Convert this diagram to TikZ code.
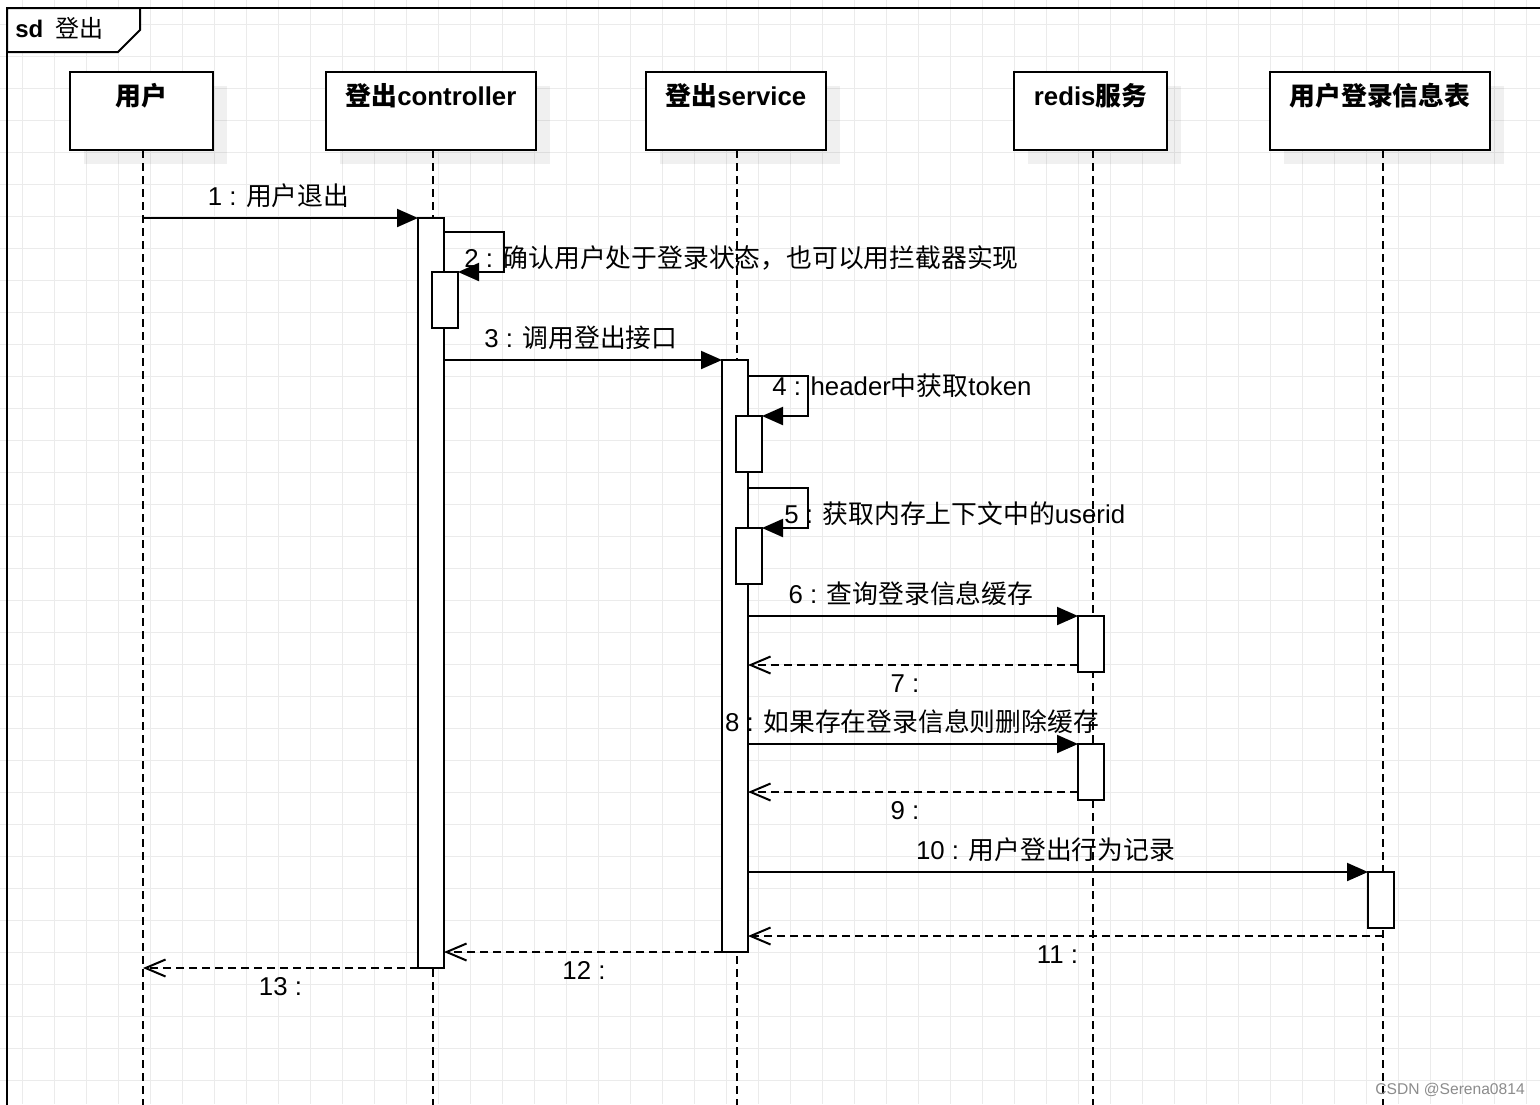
\documentclass[tikz,border=0pt]{standalone}
\usepackage{fontspec}
\setmainfont{Liberation Sans}
\newfontfamily\cjk{Noto Sans CJK SC}
\newcommand\C[1]{{\cjk #1}}
\usetikzlibrary{arrows.meta,shadows}
\begin{document}
\begin{tikzpicture}[x=0.5pt,y=-0.5pt,
  gridline/.style={line width=0.5pt, draw=black!8},
  ln/.style={line width=1pt},
  head/.style={draw, line width=1pt, fill=white, inner xsep=0pt, inner ysep=0pt, outer sep=0pt,
    text height=16.5pt, text depth=22.5pt, anchor=north,
    font=\bfseries\fontsize{12.9pt}{15pt}\selectfont,
    drop shadow={shadow xshift=7pt, shadow yshift=-7pt, fill=black, opacity=0.06}},
  act/.style={draw, line width=1pt, fill=white, inner sep=0pt, outer sep=0pt, minimum width=13pt},
  lifeline/.style={line width=1pt, dash pattern=on 4pt off 2.5pt},
  msg/.style={line width=1pt, -{Triangle[length=10.5pt,width=9pt]}},
  ret/.style={line width=1pt, dash pattern=on 4pt off 2.5pt, -{Straight Barb[length=10pt,width=8.5pt]}},
  lbl/.style={font=\fontsize{12.9pt}{15pt}\selectfont, inner sep=0pt, anchor=base}
]
\useasboundingbox (0,0) rectangle (1540,1104);
\fill[white] (0,0) rectangle (1540,1104);
% grid
\foreach \i in {0,...,47} \draw[gridline] (22.7+32*\i,0) -- (22.7+32*\i,1104);
\foreach \j in {0,...,34} \draw[gridline] (0,24+32*\j) -- (1540,24+32*\j);
% frame
\draw[ln] (7,1106) -- (7,8) -- (1542,8);
\draw[ln, fill=white] (7,8) -- (140,8) -- (140,30) -- (118,52) -- (7,52) -- cycle;
\node[inner sep=0pt, anchor=base west, font=\fontsize{12pt}{14pt}\selectfont] (title) at (15,37) {\textbf{sd}\hspace{6pt}\C{登出}};
% heads
\node[head, minimum width=71.5pt, minimum height=39pt] (h1) at (141.5,72) {\C{用户}};
\node[head, minimum width=105pt, minimum height=39pt] (h2) at (431,72) {\C{登出}controller};
\node[head, minimum width=90pt, minimum height=39pt] (h3) at (736,72) {\C{登出}service};
\node[head, minimum width=76.5pt, minimum height=39pt] (h4) at (1090.5,72) {redis\C{服务}};
\node[head, minimum width=110pt, minimum height=39pt] (h5) at (1380,72) {\C{用户登录信息表}};
% lifelines
\coordinate (l1) at (143,150);
\coordinate (l2) at (433,150);
\coordinate (l3) at (737,150);
\coordinate (l4) at (1093,150);
\coordinate (l5) at (1383,150);
\coordinate (bot) at (0,1106);
\foreach \l in {l1,l2,l3,l4,l5} \draw[lifeline] (\l) -- (\l |- bot);
% activations
\node[act, minimum height=375pt] (a1) at (431,593) {};
\node[act, minimum height=28pt] (a2) at (445,300) {};
\node[act, minimum height=296pt] (a3) at (735,656) {};
\node[act, minimum height=28pt] (a4) at (749,444) {};
\node[act, minimum height=28pt] (a5) at (749,556) {};
\node[act, minimum height=28pt] (a6) at (1091,644) {};
\node[act, minimum height=28pt] (a7) at (1091,772) {};
\node[act, minimum height=28pt] (a8) at (1381,900) {};
% helper y levels
\coordinate (y2) at (0,232);
\coordinate (y4) at (0,376);
\coordinate (y5) at (0,488);
\coordinate (r7) at (0,665);
\coordinate (r9) at (0,792);
\coordinate (r11) at (0,936);
% messages
\draw[msg] (l1 |- a1.north) -- (a1.north west);
\draw[msg] (a1.east |- y2) -| ([xshift=23pt]a2.north east) -- (a2.north east);
\draw[msg] (a1.east |- a3.north) -- (a3.north west);
\draw[msg] (a3.east |- y4) -| ([xshift=23pt]a4.north east) -- (a4.north east);
\draw[msg] (a3.east |- y5) -| ([xshift=23pt]a5.north east) -- (a5.north east);
\draw[msg] (a3.east |- a6.north) -- (a6.north west);
\draw[ret] (a6.west |- r7) -- (a3.east |- r7);
\draw[msg] (a3.east |- a7.north) -- (a7.north west);
\draw[ret] (a7.west |- r9) -- (a3.east |- r9);
\draw[msg] (a3.east |- a8.north) -- (a8.north west);
\draw[ret] (l5 |- r11) -- (a3.east |- r11);
\draw[ret] (a3.south west) -- (a1.east |- a3.south);
\draw[ret] (a1.south west) -- (l1 |- a1.south);
% labels
\node[lbl] (t1) at (278.5,205) {1 : \C{用户退出}};
\node[lbl, anchor=base west] (t2) at (464,267) {2 : \C{确认用户处于登录状态，也可以用拦截器实现}};
\node[lbl] (t3) at (581,347) {3 : \C{调用登出接口}};
\node[lbl, anchor=base west] (t4) at (772,395) {4 : header\C{中获取}token};
\node[lbl, anchor=base west] (t5) at (784,523) {5 : \C{获取内存上下文中的}userid};
\node[lbl] (t6) at (911,603) {6 : \C{查询登录信息缓存}};
\node[lbl] (t7) at (905,692.5) {7 :};
\node[lbl] (t8) at (912,731) {8 : \C{如果存在登录信息则删除缓存}};
\node[lbl] (t9) at (905,819.5) {9 :};
\node[lbl] (t10) at (1045.5,859) {10 : \C{用户登出行为记录}};
\node[lbl] (t11) at (1057.5,963.5) {11 :};
\node[lbl] (t12) at (584,979.5) {12 :};
\node[lbl] (t13) at (280.5,995.5) {13 :};
% watermark
\node[inner sep=0pt, anchor=base, font=\fontsize{7.8pt}{9pt}\selectfont, text=black!45] (wm) at (1450,1094) {CSDN @Serena0814};
\end{tikzpicture}
\end{document}
